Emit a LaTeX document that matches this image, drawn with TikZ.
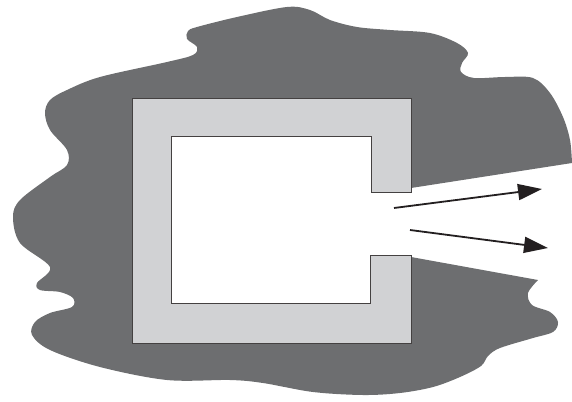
\documentclass[tikz,border=0pt]{standalone}
\usetikzlibrary{arrows.meta}
\definecolor{blobgray}{HTML}{6D6E70}
\definecolor{wallgray}{HTML}{D1D2D4}
\definecolor{inkblack}{HTML}{231F20}
\tikzset{
  blob/.style={fill=blobgray},
  wall/.style={fill=wallgray, draw=inkblack!85, line width=1pt, line join=miter},
  flow/.style={draw=inkblack, line width=1.8pt, -{Triangle[length=24pt,width=16pt]}},
}
\begin{document}
\begin{tikzpicture}[x=1pt,y=-1pt]
\useasboundingbox (0,0) rectangle (572,401);
% surrounding medium
\fill[blob] (400,189.7) -- (400,255) -- (411,257) -- plot[smooth,tension=0.55] coordinates {
 (538,280) (528,293) (532,305) (550,312) (558,322) (553,332) (533,338)
 (500,348) (488,356) (481,366) (460,377) (433,387) (400,393) (363,395)
 (313,392) (263,383) (230,380) (167,380) (100,367) (50,350) (32,335)
 (35,322) (50,313) (72,307) (73,298) (60,292) (40,290) (37,283) (50,267)
 (20,243) (13,217) (20,200) (50,177) (67,165) (67,150) (50,130) (45,113)
 (50,100) (67,90) (100,77) (167,62) (193,55) (197,47) (187,39) (188,31)
 (197,27) (237,17) (287,7) (310,10) (330,20) (357,27) (390,30) (430,33)
 (457,43) (468,53) (462,63) (461,72) (474,78) (505,77) (533,78) (550,93)
 (563,117) (570,140) (572,163)} -- (411,188) -- cycle;
% open interior
\fill[white] (171,136) rectangle (411,303);
% enclosure wall (C shape)
\path[wall] (132,99) -- (411,99) -- (411,192) -- (371,192) -- (371,136)
  -- (171,136) -- (171,303) -- (370,303) -- (370,255) -- (411,255)
  -- (411,343) -- (132,343) -- cycle;
% arrows
\coordinate (a1s) at (394,208);
\coordinate (a1e) at (542,189);
\coordinate (a2s) at (410,230);
\coordinate (a2e) at (548,248);
\draw[flow] (a1s) -- (a1e);
\draw[flow] (a2s) -- (a2e);
\end{tikzpicture}
\end{document}
